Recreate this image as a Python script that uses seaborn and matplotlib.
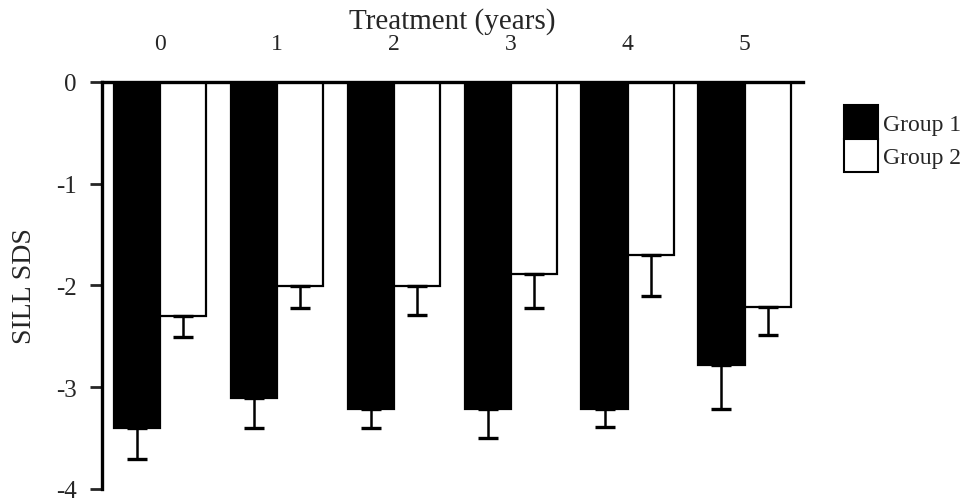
import numpy as np
import pandas as pd
import matplotlib
matplotlib.use("Agg")
import matplotlib.pyplot as plt
import seaborn as sns
from matplotlib.patches import Patch

# =====================================================
# DATA
# =====================================================

years = ["0", "1", "2", "3", "4", "5"]
groups = ["Group 1", "Group 2"]

group1_mean = [-3.40, -3.11, -3.21, -3.21, -3.21, -2.78]
group2_mean = [-2.30, -2.01, -2.01, -1.89, -1.70, -2.21]

# lower error extent (positive, drawn downward only)
group1_err = [0.31, 0.29, 0.19, 0.29, 0.18, 0.43]
group2_err = [0.21, 0.21, 0.28, 0.33, 0.40, 0.28]

df = pd.DataFrame({
    "Year": years * 2,
    "Group": [groups[0]] * len(years) + [groups[1]] * len(years),
    "SDS": group1_mean + group2_mean,
})

# =====================================================
# SETTINGS
# =====================================================

sns.set_theme(style="white")
plt.rcParams["font.family"] = ["Liberation Serif", "DejaVu Serif"]

fig = plt.figure(figsize=(9.78, 5.02), dpi=100)
ax = fig.add_axes([0.104, 0.024, 0.717, 0.811])

sns.barplot(
    data=df,
    x="Year",
    y="SDS",
    hue="Group",
    palette=["black", "white"],
    edgecolor="black",
    linewidth=1.6,
    width=0.79,
    errorbar=None,
    legend=False,
    ax=ax
)

# error bars (downward only)
for container, errs in zip(ax.containers, [group1_err, group2_err]):
    xs = [b.get_x() + b.get_width() / 2 for b in container]
    ys = [b.get_y() + b.get_height() for b in container]
    ax.errorbar(
        xs, ys,
        yerr=[errs, [0] * len(errs)],
        fmt="none",
        ecolor="black",
        elinewidth=1.8,
        capsize=7,
        capthick=2.4,
    )

# =====================================================
# AXES
# =====================================================

ax.set_ylim(-4, 0)
ax.set_xlim(-0.5, 5.5)
ax.set_yticks([-4, -3, -2, -1, 0])
ax.set_yticklabels(["-4", "-3", "-2", "-1", "0"])

ax.xaxis.tick_top()
ax.xaxis.set_label_position("top")
ax.tick_params(axis="x", length=0, pad=20, labelsize=17)
ax.tick_params(axis="y", direction="out", length=9, width=2,
               left=True, labelsize=18, pad=9)

ax.set_xlabel("Treatment (years)", fontsize=21, labelpad=4)
ax.set_ylabel("SILL SDS", fontsize=20, labelpad=14)

for side in ["bottom", "right"]:
    ax.spines[side].set_visible(False)
for side in ["top", "left"]:
    ax.spines[side].set_visible(True)
    ax.spines[side].set_linewidth(2.4)
    ax.spines[side].set_color("black")

# =====================================================
# LEGEND
# =====================================================

handles = [
    Patch(facecolor="black", edgecolor="black", linewidth=1.5),
    Patch(facecolor="white", edgecolor="black", linewidth=1.5),
]
fig.legend(
    handles, groups,
    loc="upper left",
    bbox_to_anchor=(0.853, 0.807),
    frameon=False,
    fontsize=17,
    handlelength=1.45,
    handleheight=1.8,
    handletextpad=0.2,
    labelspacing=0.0,
    borderaxespad=0,
)

fig.savefig("out.png", dpi=100)
